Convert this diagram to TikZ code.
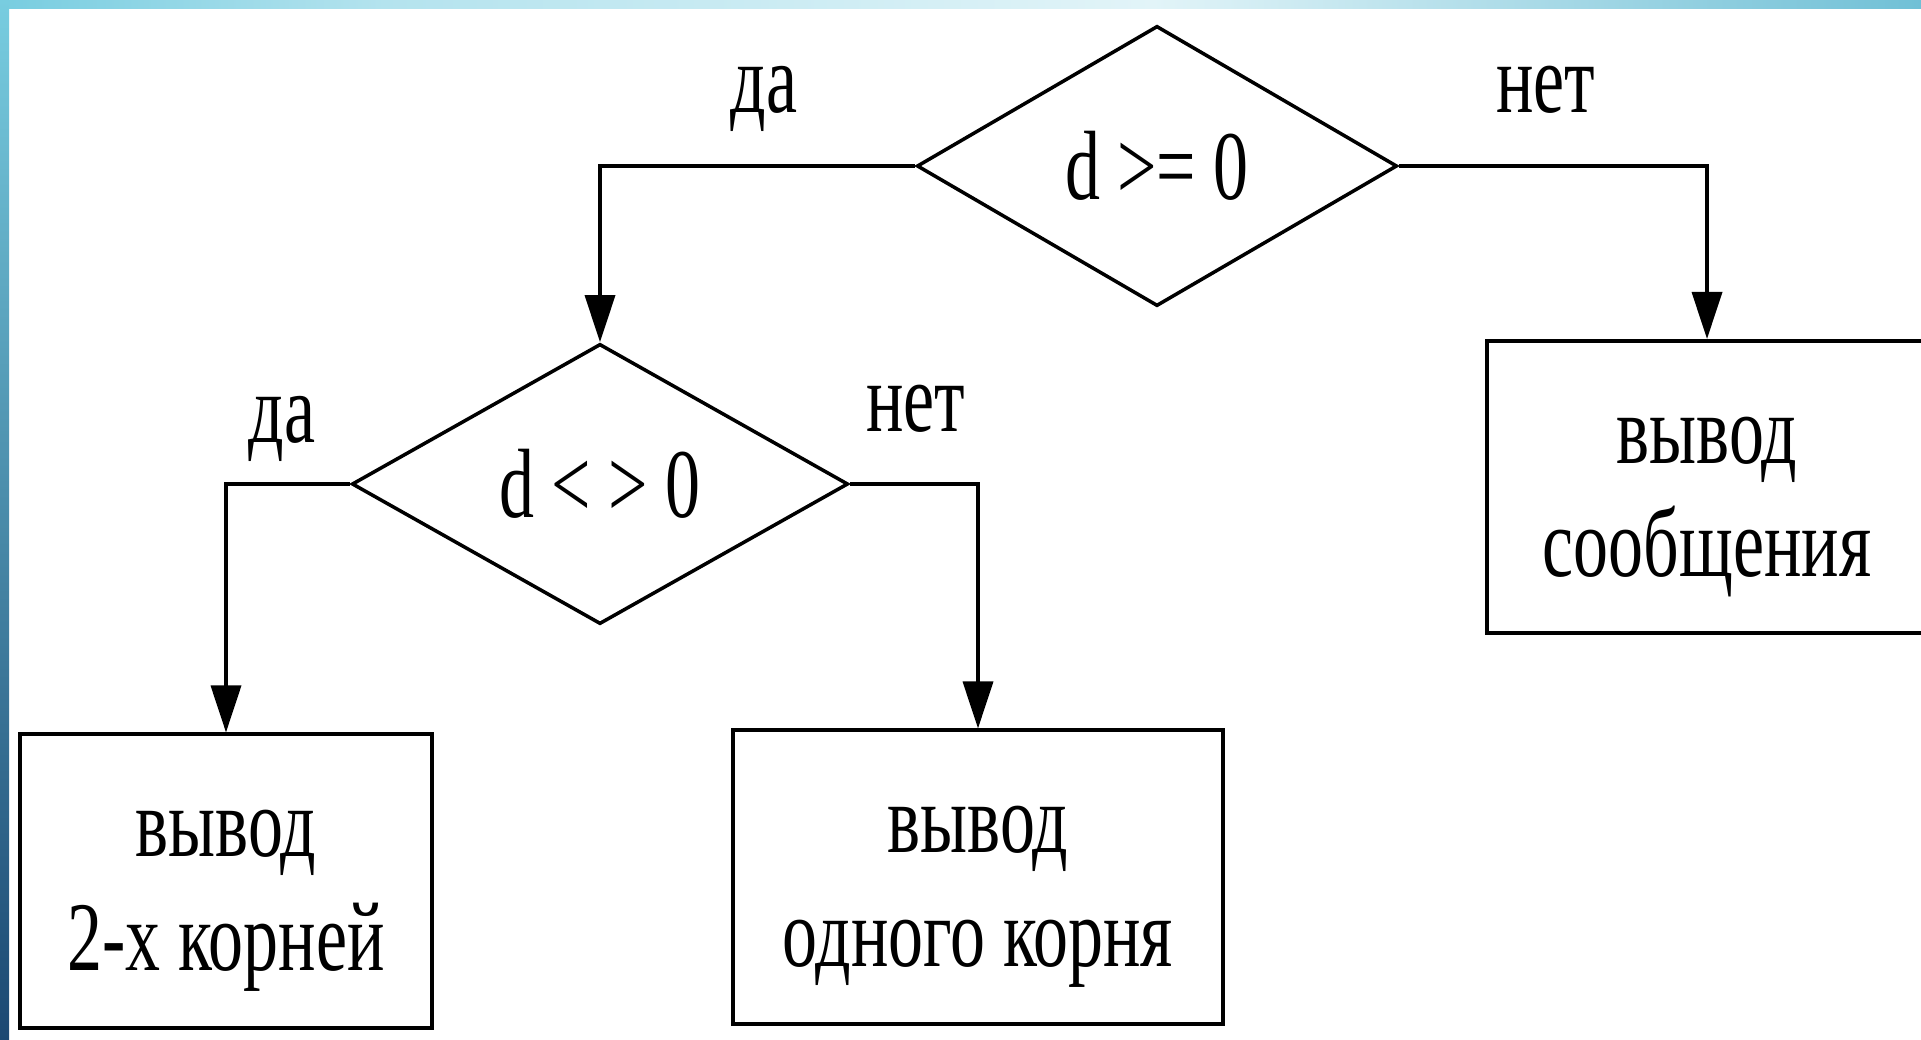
\documentclass[tikz,border=0pt]{standalone}
\usepackage{fontspec}
\setmainfont{Liberation Serif}[FakeStretch=0.71]
\usepackage{tikz}
\usetikzlibrary{arrows.meta, shapes.geometric, positioning}

\definecolor{barleft}{HTML}{78CDE0}
\definecolor{barmid}{HTML}{B4E3EE}
\definecolor{barlight}{HTML}{E2F4F8}
\definecolor{barright}{HTML}{70C0D6}
\definecolor{bardark}{HTML}{1B4872}
\pgfdeclarehorizontalshading{topbar}{100bp}{color(0bp)=(barleft); color(25bp)=(barleft); color(35bp)=(barmid); color(55bp)=(barlight); color(75bp)=(barright); color(100bp)=(barright)}
\newcommand{\boxstrut}{\rule{0pt}{24.5pt}}

\begin{document}
\begin{tikzpicture}[x=0.01cm, y=-0.01cm,
    txt/.style={font=\fontsize{28}{32.2}\selectfont},
    cond/.style={txt, draw, diamond, line width=1pt, inner sep=0pt},
    outbox/.style={txt, draw, rectangle, line width=1.1pt, inner sep=0pt, align=center},
    flow/.style={line width=1pt, -{Triangle[length=0.47cm, width=0.3cm]}}]
  \useasboundingbox (0,0) rectangle (1921,1040);
  \fill[white] (0,0) rectangle (1921,1040);
  \shade[shading=topbar] (0,0) rectangle (1921,9);
  \shade[top color=barleft, bottom color=bardark] (0,0) rectangle (9,1040);

  % conditions
  \node[cond, minimum width=4.8cm, minimum height=2.8cm] (ge) at (1157,166) {d >= 0};
  \node[cond, minimum width=4.96cm, minimum height=2.8cm] (ne) at (600,484) {d < > 0};

  % outputs
  \node[outbox, minimum width=4.4cm, minimum height=2.92cm] (msg) at (1707,487) {\boxstrut вывод\\сообщения};
  \node[outbox, minimum width=4.12cm, minimum height=2.93cm] (two) at (226,881) {\boxstrut вывод\\2-х корней};
  \node[outbox, minimum width=4.9cm, minimum height=2.93cm] (one) at (978,877) {\boxstrut вывод\\одного корня};

  \draw[flow] (ge.west) -| (ne.north);
  \draw[flow] (ge.east) -| (msg.north);
  \draw[flow] (ne.west) -| (two.north);
  \draw[flow] (ne.east) -| (one.north);

  % branch labels
  \node[txt, anchor=base] (yes1) at (764,113) {да};
  \node[txt, anchor=base] (no1) at (1546,113) {нет};
  \node[txt, anchor=base] (yes2) at (282,443) {да};
  \node[txt, anchor=base] (no2) at (916,432) {нет};
\end{tikzpicture}
\end{document}
